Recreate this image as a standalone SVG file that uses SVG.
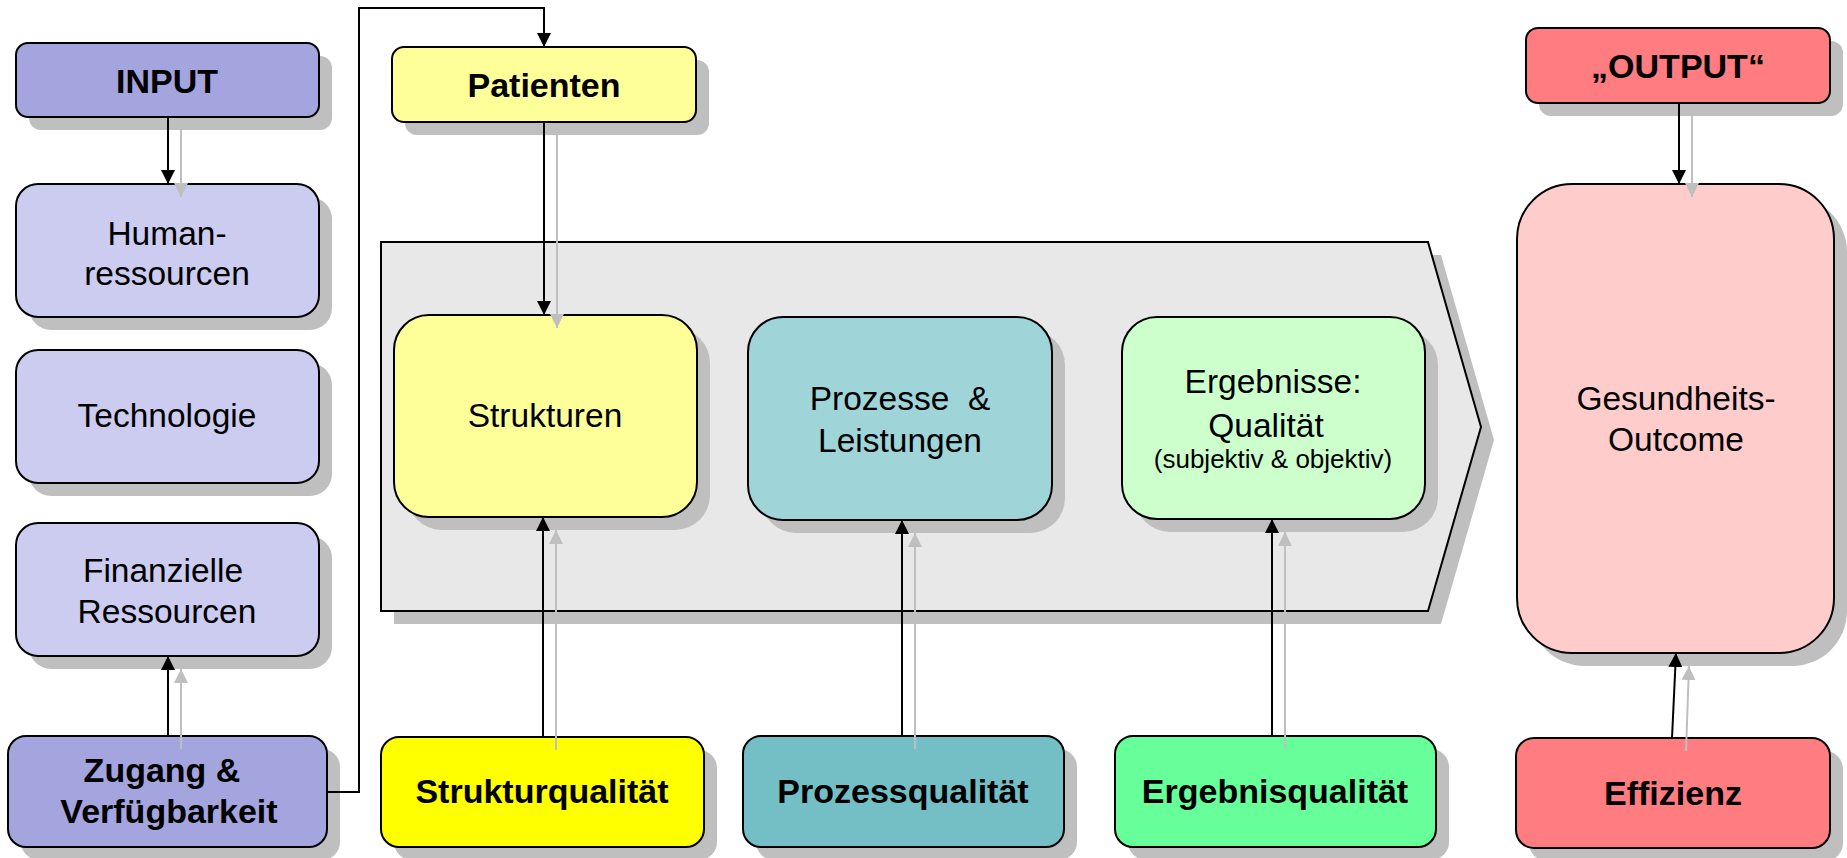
<svg xmlns="http://www.w3.org/2000/svg" width="1847" height="858" viewBox="0 0 1847 858">
<defs>
<style>
.box{stroke:#000;stroke-width:2}
.sh{fill:#BFBFBF}
text{font-family:"Liberation Sans",Arial,sans-serif;fill:#000;text-anchor:middle}
.r{font-size:33.5px}
.b{font-size:34px;font-weight:bold}
.s{font-size:26px}
.ln{stroke:#000;stroke-width:2;fill:none}
.lg{stroke:#BFBFBF;stroke-width:2;fill:none}
</style>
<marker id="ab" markerUnits="userSpaceOnUse" markerWidth="14" markerHeight="14" viewBox="0 0 14 14" refX="14" refY="7" orient="auto"><path d="M0,0 L14,7 L0,14 Z" fill="#000"/></marker>
<marker id="ag" markerUnits="userSpaceOnUse" markerWidth="14" markerHeight="14" viewBox="0 0 14 14" refX="14" refY="7" orient="auto"><path d="M0,0 L14,7 L0,14 Z" fill="#BFBFBF"/></marker>
</defs>
<rect width="1847" height="858" fill="#fff"/>
<g id="chevron">
<polygon class="sh" points="394,255 1441,255 1494,440 1441,624 394,624"/>
<polygon points="381,242 1428,242 1481,427 1428,611 381,611" fill="#E8E8E8" stroke="#000" stroke-width="2"/>
</g>
<g id="input">
<rect class="sh" x="29" y="56" width="303" height="74" rx="12"/>
<rect class="box" x="16" y="43" width="303" height="74" rx="12" fill="#A4A4DF"/>
<text class="b" x="167" y="93">INPUT</text>
</g>
<g id="human">
<rect class="sh" x="29" y="197" width="303" height="133" rx="22"/>
<rect class="box" x="16" y="184" width="303" height="133" rx="22" fill="#CCCCF0"/>
<text class="r" x="167" y="245">Human-</text>
<text class="r" x="167" y="285">ressourcen</text>
</g>
<g id="technologie">
<rect class="sh" x="29" y="363" width="303" height="133" rx="22"/>
<rect class="box" x="16" y="350" width="303" height="133" rx="22" fill="#CCCCF0"/>
<text class="r" x="167" y="427">Technologie</text>
</g>
<g id="finanz">
<rect class="sh" x="29" y="536" width="303" height="133" rx="22"/>
<rect class="box" x="16" y="523" width="303" height="133" rx="22" fill="#CCCCF0"/>
<text class="r" x="163" y="582">Finanzielle</text>
<text class="r" x="167" y="623">Ressourcen</text>
</g>
<g id="zugang">
<rect class="sh" x="21" y="749" width="319" height="111" rx="18"/>
<rect class="box" x="8" y="736" width="319" height="111" rx="18" fill="#A4A4DF"/>
<text class="b" x="162" y="782">Zugang &amp;</text>
<text class="b" x="169" y="823">Verfügbarkeit</text>
</g>
<g id="patienten">
<rect class="sh" x="405" y="60" width="304" height="75" rx="12"/>
<rect class="box" x="392" y="47" width="304" height="75" rx="12" fill="#FFFF99"/>
<text class="b" x="544" y="97">Patienten</text>
</g>
<g id="strukturen">
<rect class="sh" x="407" y="328" width="303" height="202" rx="35"/>
<rect class="box" x="394" y="315" width="303" height="202" rx="35" fill="#FFFF99"/>
<text class="r" x="545" y="427">Strukturen</text>
</g>
<g id="prozesse">
<rect class="sh" x="761" y="330" width="304" height="203" rx="35"/>
<rect class="box" x="748" y="317" width="304" height="203" rx="35" fill="#9FD4D8"/>
<text class="r" x="900" y="410" xml:space="preserve">Prozesse  &amp;</text>
<text class="r" x="900" y="452">Leistungen</text>
</g>
<g id="ergebnisse">
<rect class="sh" x="1135" y="330" width="303" height="202" rx="35"/>
<rect class="box" x="1122" y="317" width="303" height="202" rx="35" fill="#CCFFCC"/>
<text class="r" x="1273" y="393">Ergebnisse:</text>
<text class="r" x="1266" y="437">Qualität</text>
<text class="s" x="1273" y="468">(subjektiv &amp; objektiv)</text>
</g>
<g id="output">
<rect class="sh" x="1539" y="41" width="304" height="75" rx="12"/>
<rect class="box" x="1526" y="28" width="304" height="75" rx="12" fill="#FF7C80"/>
<text class="b" x="1678" y="78">„OUTPUT“</text>
</g>
<g id="gesundheit">
<rect class="sh" x="1530" y="197" width="317" height="469" rx="55"/>
<rect class="box" x="1517" y="184" width="317" height="469" rx="55" fill="#FFCCCC"/>
<text class="r" x="1676" y="410">Gesundheits-</text>
<text class="r" x="1676" y="451">Outcome</text>
</g>
<g id="strukturqualitaet">
<rect class="sh" x="394" y="750" width="323" height="110" rx="18"/>
<rect class="box" x="381" y="737" width="323" height="110" rx="18" fill="#FFFF00"/>
<text class="b" x="542" y="803">Strukturqualität</text>
</g>
<g id="prozessqualitaet">
<rect class="sh" x="756" y="749" width="321" height="111" rx="18"/>
<rect class="box" x="743" y="736" width="321" height="111" rx="18" fill="#73BFC5"/>
<text class="b" x="903" y="803">Prozessqualität</text>
</g>
<g id="ergebnisqualitaet">
<rect class="sh" x="1128" y="749" width="321" height="111" rx="18"/>
<rect class="box" x="1115" y="736" width="321" height="111" rx="18" fill="#66FF99"/>
<text class="b" x="1275" y="803">Ergebnisqualität</text>
</g>
<g id="effizienz">
<rect class="sh" x="1529" y="751" width="314" height="110" rx="18"/>
<rect class="box" x="1516" y="738" width="314" height="110" rx="18" fill="#FF7C80"/>
<text class="b" x="1673" y="805">Effizienz</text>
</g>
<g id="connectors">
<line class="lg" x1="181" y1="130" x2="181" y2="197" marker-end="url(#ag)"/>
<line class="lg" x1="181" y1="749" x2="181" y2="669" marker-end="url(#ag)"/>
<line class="lg" x1="557" y1="135" x2="557" y2="328" marker-end="url(#ag)"/>
<line class="lg" x1="556" y1="750" x2="556" y2="530" marker-end="url(#ag)"/>
<line class="lg" x1="915" y1="749" x2="915" y2="533" marker-end="url(#ag)"/>
<line class="lg" x1="1285" y1="749" x2="1285" y2="532" marker-end="url(#ag)"/>
<line class="lg" x1="1692" y1="116" x2="1692" y2="197" marker-end="url(#ag)"/>
<line class="lg" x1="1686" y1="751" x2="1689" y2="666" marker-end="url(#ag)"/>
<line class="ln" x1="168" y1="117" x2="168" y2="184" marker-end="url(#ab)"/>
<line class="ln" x1="168" y1="736" x2="168" y2="656" marker-end="url(#ab)"/>
<polyline class="ln" points="327,792 359,792 359,8 544,8 544,47" marker-end="url(#ab)"/>
<line class="ln" x1="544" y1="122" x2="544" y2="315" marker-end="url(#ab)"/>
<line class="ln" x1="543" y1="737" x2="543" y2="517" marker-end="url(#ab)"/>
<line class="ln" x1="902" y1="736" x2="902" y2="520" marker-end="url(#ab)"/>
<line class="ln" x1="1272" y1="736" x2="1272" y2="519" marker-end="url(#ab)"/>
<line class="ln" x1="1679" y1="103" x2="1679" y2="184" marker-end="url(#ab)"/>
<line class="ln" x1="1672" y1="738" x2="1676" y2="653" marker-end="url(#ab)"/>
</g>
</svg>
